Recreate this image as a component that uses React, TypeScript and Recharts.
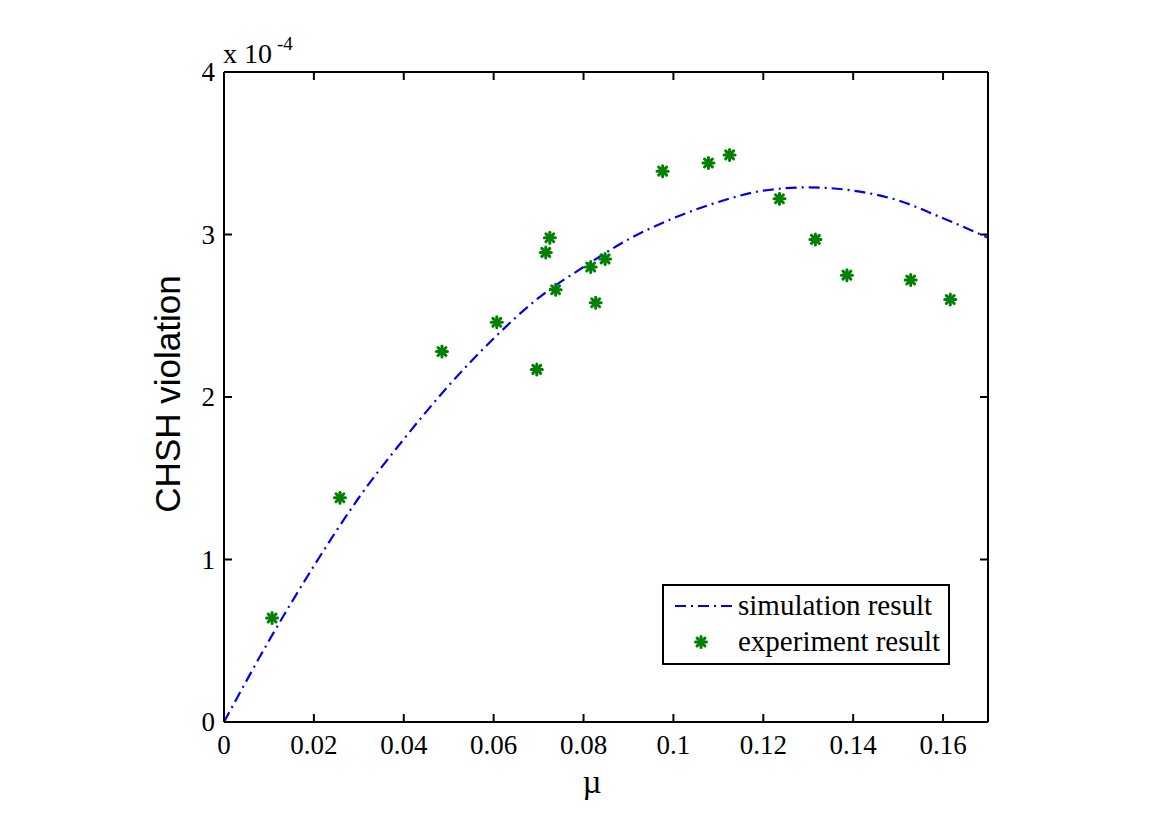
import React from "react";
import { ComposedChart, Legend, Line, Scatter, XAxis, YAxis } from "recharts";

// values in units of 1e-4 (as on the axis)
const MU_TICKS = [0, 0.02, 0.04, 0.06, 0.08, 0.1, 0.12, 0.14, 0.16];
const V_TICKS = [0, 1, 2, 3, 4];

const SIM_MU = [0, 0.01, 0.02, 0.03, 0.04, 0.05, 0.06, 0.07, 0.08, 0.09, 0.1, 0.11, 0.12, 0.13, 0.14, 0.15, 0.16, 0.17];
const SIM_V = [0, 0.5, 0.96, 1.38, 1.74, 2.07, 2.36, 2.61, 2.8, 2.97, 3.1, 3.2, 3.27, 3.29, 3.27, 3.21, 3.1, 2.98];

const EXP_MU = [0.0107, 0.0258, 0.0485, 0.0607, 0.0696, 0.0716, 0.0725, 0.0738, 0.0816, 0.0827, 0.0848, 0.0976, 0.1078, 0.1125, 0.1236, 0.1316, 0.1386, 0.1528, 0.1616];
const EXP_V = [0.64, 1.38, 2.28, 2.46, 2.17, 2.89, 2.98, 2.66, 2.8, 2.58, 2.85, 3.39, 3.44, 3.49, 3.22, 2.97, 2.75, 2.72, 2.6];

const simData = SIM_MU.map((mu, i) => ({ mu, v: SIM_V[i] }));
const expData = EXP_MU.map((mu, i) => ({ mu, v: EXP_V[i] }));

const SERIF = "'Liberation Serif', 'Times New Roman', serif";
const SANS = "'Liberation Sans', Arial, sans-serif";
const BLUE = "#0000f0";
const GREEN = "#008000";
const DASH = "11 5 2 5";

const fmtMu = (v: number) => String(Number(v.toFixed(2)));

const BottomTick = ({ x, y, payload }: any) => (
  <g>
    <line x1={x} y1={y} x2={x} y2={y - 8} stroke="#000" strokeWidth={2} />
    <text x={x} y={y + 32} textAnchor="middle" fontFamily={SERIF} fontSize={27} fill="#000">
      {fmtMu(payload.value)}
    </text>
  </g>
);

const TopTick = ({ x, y }: any) => <line x1={x} y1={y} x2={x} y2={y + 8} stroke="#000" strokeWidth={2} />;

const LeftTick = ({ x, y, payload }: any) => (
  <g>
    <line x1={x} y1={y} x2={x + 8} y2={y} stroke="#000" strokeWidth={2} />
    <text x={x - 9} y={y + 9} textAnchor="end" fontFamily={SERIF} fontSize={27} fill="#000">
      {payload.value}
    </text>
  </g>
);

const RightTick = ({ x, y }: any) => <line x1={x} y1={y} x2={x - 8} y2={y} stroke="#000" strokeWidth={2} />;

const Asterisk = ({ cx, cy }: any) => {
  const r = 5.5;
  const d = r * 0.72;
  return (
    <g stroke={GREEN} strokeWidth={3} strokeLinecap="round">
      <line x1={cx} y1={cy - r} x2={cx} y2={cy + r} />
      <line x1={cx - r} y1={cy} x2={cx + r} y2={cy} />
      <line x1={cx - d} y1={cy - d} x2={cx + d} y2={cy + d} />
      <line x1={cx - d} y1={cy + d} x2={cx + d} y2={cy - d} />
    </g>
  );
};

const LegendBox = () => (
  <svg width={288} height={81} style={{ display: "block" }}>
    <rect x={1} y={1} width={286} height={79} fill="#fff" stroke="#000" strokeWidth={2} />
    <line x1={13} y1={22} x2={72} y2={22} stroke={BLUE} strokeWidth={2.2} strokeDasharray={DASH} />
    <text x={76} y={31} fontFamily={SERIF} fontSize={29} fill="#000">simulation result</text>
    <Asterisk cx={39} cy={58} />
    <text x={76} y={67} fontFamily={SERIF} fontSize={29} fill="#000">experiment result</text>
  </svg>
);

export default function App() {
  return (
    <div style={{ position: "absolute", left: 0, top: 0, width: 1170, height: 827, background: "#fff" }}>
      <ComposedChart width={1170} height={827} margin={{ top: 62, right: 172, bottom: 65, left: 184 }}>
        <XAxis
          xAxisId="b"
          dataKey="mu"
          type="number"
          domain={[0, 0.17]}
          ticks={MU_TICKS}
          allowDataOverflow
          height={40}
          tickSize={0}
          tickMargin={0}
          tickLine={false}
          tick={<BottomTick />}
          axisLine={{ stroke: "#000", strokeWidth: 2 }}
        />
        <XAxis
          xAxisId="t"
          orientation="top"
          dataKey="mu"
          type="number"
          domain={[0, 0.17]}
          ticks={MU_TICKS}
          allowDataOverflow
          height={10}
          tickSize={0}
          tickMargin={0}
          tickLine={false}
          tick={<TopTick />}
          axisLine={{ stroke: "#000", strokeWidth: 2 }}
        />
        <YAxis
          yAxisId="l"
          dataKey="v"
          type="number"
          domain={[0, 4]}
          ticks={V_TICKS}
          allowDataOverflow
          width={40}
          tickSize={0}
          tickMargin={0}
          tickLine={false}
          tick={<LeftTick />}
          axisLine={{ stroke: "#000", strokeWidth: 2 }}
        />
        <YAxis
          yAxisId="r"
          orientation="right"
          dataKey="v"
          type="number"
          domain={[0, 4]}
          ticks={V_TICKS}
          allowDataOverflow
          width={10}
          tickSize={0}
          tickMargin={0}
          tickLine={false}
          tick={<RightTick />}
          axisLine={{ stroke: "#000", strokeWidth: 2 }}
        />
        <Line
          xAxisId="b"
          yAxisId="l"
          data={simData}
          dataKey="v"
          type="monotone"
          stroke={BLUE}
          strokeWidth={2.2}
          strokeDasharray={DASH}
          dot={false}
          activeDot={false}
          isAnimationActive={false}
        />
        <Scatter
          xAxisId="b"
          yAxisId="l"
          data={expData}
          dataKey="v"
          shape={<Asterisk />}
          isAnimationActive={false}
        />
        <Legend
          layout="vertical"
          align="center"
          verticalAlign="middle"
          content={<LegendBox />}
          wrapperStyle={{ left: 662, top: 584, width: 288, height: 81 }}
        />
      </ComposedChart>
      <svg width={1170} height={827} style={{ position: "absolute", left: 0, top: 0, pointerEvents: "none" }}>
        <text x={223} y={63} fontFamily={SERIF} fontSize={28} fill="#000">
          x 10<tspan x={277} y={50} fontSize={19}>-4</tspan>
        </text>
        <text x={180} y={394} transform="rotate(-90 180 394)" textAnchor="middle" fontFamily={SANS} fontSize={35} fill="#000">
          CHSH violation
        </text>
        <text x={592} y={793} textAnchor="middle" fontFamily={SERIF} fontSize={33} fill="#000">µ</text>
      </svg>
    </div>
  );
}
